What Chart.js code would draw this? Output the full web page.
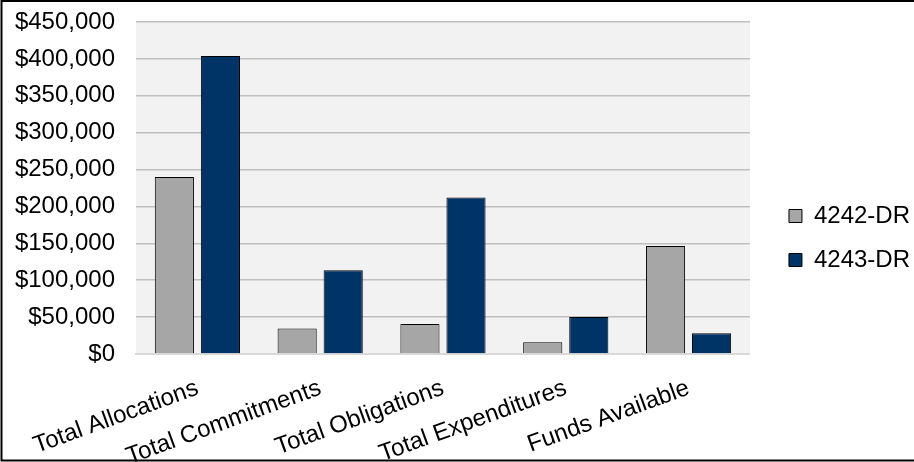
<!DOCTYPE html>
<html>
<head>
<meta charset="utf-8">
<script src="https://cdn.jsdelivr.net/npm/chart.js@4"></script>
<style>
  html, body { margin: 0; padding: 0; background: #fff; }
  #wrap { width: 914px; height: 462px; position: relative; }
</style>
</head>
<body>
<div id="wrap"><canvas id="myChartCanvas1"></canvas></div>
<script>
const categorias = ['Total Allocations', 'Total Commitments', 'Total Obligations', 'Total Expenditures', 'Funds Available'];
const serie4242 = [240000, 34500, 40500, 16000, 146500];
const serie4243 = [404000, 113500, 212000, 50000, 28000];
const nomesSeries = ['4242-DR', '4243-DR'];
const ticksY = [0, 50000, 100000, 150000, 200000, 250000, 300000, 350000, 400000, 450000];

const fonte = "'Liberation Sans', Arial, sans-serif";

// fundo cinza da area do grafico + moldura preta
const fundoEMoldura = {
    id: 'fundoEMoldura',
    beforeDraw(chart) {
        const { ctx, chartArea } = chart;
        ctx.save();
        ctx.fillStyle = '#f2f2f2';
        ctx.fillRect(chartArea.left, chartArea.top, chartArea.right - chartArea.left, chartArea.bottom - chartArea.top);
        ctx.restore();
    },
    afterDraw(chart) {
        const ctx = chart.ctx;
        ctx.save();
        ctx.strokeStyle = '#000';
        ctx.lineWidth = 2;
        ctx.beginPath();
        ctx.moveTo(914, 1);
        ctx.lineTo(1.5, 1);
        ctx.lineTo(1.5, 460.5);
        ctx.lineTo(914, 460.5);
        ctx.stroke();
        ctx.restore();
    }
};

const dados = {
    labels: categorias,
    datasets: [{
        label: nomesSeries[0],
        data: serie4242,
        backgroundColor: '#a6a6a6',
        borderColor: '#000',
        borderWidth: 1,
        categoryPercentage: 0.75,
        barPercentage: 0.85
    }, {
        label: nomesSeries[1],
        data: serie4243,
        backgroundColor: '#003366',
        borderColor: '#000',
        borderWidth: 1,
        categoryPercentage: 0.75,
        barPercentage: 0.85
    }]
};

const config = {
    type: 'bar',
    data: dados,
    options: {
        responsive: true,
        maintainAspectRatio: false,
        animation: false,
        layout: { padding: { top: 14, left: 0, right: -6, bottom: 0 } },
        scales: {
            x: {
                grid: { display: false },
                border: { display: true, color: '#d9d9d9', width: 2 },
                ticks: {
                    color: '#000',
                    autoSkip: false,
                    minRotation: 20,
                    maxRotation: 20,
                    padding: 12,
                    font: { family: fonte, size: 24 }
                },
                afterFit: (s) => { s.height = 108; s.paddingLeft = 0; s.paddingRight = 0; }
            },
            y: {
                min: 0,
                max: 450000,
                afterBuildTicks: (s) => { s.ticks = ticksY.map(v => ({ value: v })); },
                grid: { color: '#bfbfbf', lineWidth: 1.5, drawTicks: false },
                border: { display: false },
                ticks: {
                    color: '#000',
                    padding: 21,
                    font: { family: fonte, size: 24 },
                    callback: (v) => '$' + v.toLocaleString('en-US')
                },
                afterFit: (s) => { s.width = 136; s.paddingTop = 22; }
            },
            // eixo vazio so para afastar a legenda da area do grafico
            espaco: {
                type: 'linear',
                position: 'right',
                grid: { display: false },
                border: { display: false },
                ticks: { display: false },
                afterFit: (s) => { s.width = 19; }
            }
        },
        plugins: {
            legend: {
                position: 'right',
                labels: {
                    color: '#000',
                    boxWidth: 13,
                    boxHeight: 13,
                    padding: 20,
                    font: { family: fonte, size: 24 }
                }
            },
            tooltip: { enabled: false }
        }
    },
    plugins: [fundoEMoldura]
};

new Chart(document.getElementById('myChartCanvas1'), config);
</script>
</body>
</html>
